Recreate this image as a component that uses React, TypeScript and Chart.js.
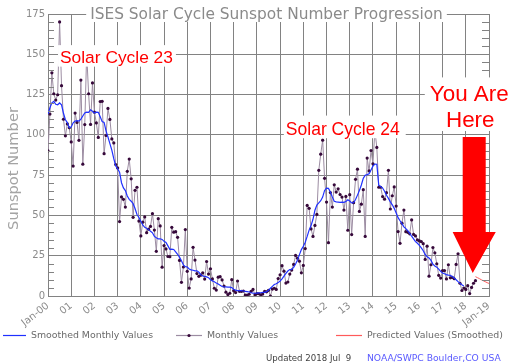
import React, { useEffect, useRef } from "react";
import { Chart, registerables } from "chart.js";
Chart.register(...registerables);

const TITLE = "ISES Solar Cycle Sunspot Number Progression";
const Y_TITLE = "Sunspot Number";
const X_TICK_LABELS = ["Jan-00","01","02","03","04","05","06","07","08","09","10","11","12","13","14","15","16","17","18","Jan-19"];
const Y_MAX = 175;
const Y_STEP = 25;
const MONTHS_SPAN = 228; // Jan-2000 .. Jan-2019

// Monthly values, Jan 2000 .. Jun 2018
const MONTHLY_2000_2004 = [
  90.1,112.9,138.5,125.5,121.6,124.9,170.1,130.5,109.7,99.4,106.8,104.4,
  95.6,80.6,113.5,107.7,96.6,134.0,81.8,106.4,150.7,125.5,106.5,132.2,
  114.1,107.4,98.4,120.7,120.8,88.3,99.6,116.4,109.6,97.5,95.0,81.6,
  79.5,46.2,61.5,60.0,55.2,77.4,85.0,72.7,48.8,65.6,67.5,46.5,
  37.3,45.8,49.1,39.3,41.5,43.2,51.1,40.9,27.7,48.0,43.5,17.9,
];
const MONTHLY_2005_2009 = [
  31.3,29.2,24.5,24.4,42.6,39.6,39.9,36.4,22.1,8.5,18.0,41.2,
  15.3,4.9,10.6,30.2,22.3,13.9,12.2,12.9,14.4,10.5,21.4,13.6,
  16.9,10.6,4.8,3.7,11.7,12.0,10.0,6.2,2.4,0.9,1.7,10.1,
  3.3,2.1,9.3,2.9,2.9,3.1,0.5,0.5,1.1,2.9,4.1,0.8,
  1.5,1.4,0.7,1.2,2.9,2.6,3.5,0.0,4.3,4.8,4.1,10.8,
];
const MONTHLY_2010_2014 = [
  13.2,18.8,15.4,8.0,8.7,13.6,16.1,19.6,25.2,23.5,21.6,14.4,
  19.0,29.4,56.2,54.4,41.6,37.0,43.8,50.6,78.0,88.0,96.7,73.0,
  58.3,33.1,64.2,55.2,69.0,64.5,66.5,63.0,61.4,53.3,61.8,40.8,
  62.9,38.1,57.9,72.4,78.7,52.5,57.0,66.0,37.0,85.6,77.6,90.3,
  82.0,102.8,92.2,67.5,67.5,61.7,60.1,64.1,78.0,54.0,62.2,67.7,
];
const MONTHLY_2015_2018 = [
  55.8,40.0,32.7,45.2,53.3,39.9,39.5,38.6,47.2,38.2,37.3,34.8,
  34.2,33.8,32.5,22.7,30.9,12.3,19.4,30.1,26.8,20.0,12.8,11.1,
  15.7,15.8,10.6,19.4,11.3,11.5,10.7,19.6,26.2,7.9,3.4,4.9,
  4.1,6.4,1.5,5.3,7.9,9.5,
];
const MONTHLY = [...MONTHLY_2000_2004, ...MONTHLY_2005_2009, ...MONTHLY_2010_2014, ...MONTHLY_2015_2018];

// Smoothed monthly values, Jan 2000 .. Dec 2017
const SMOOTHED_2000_2005 = [
  112.9,116.8,119.9,120.8,119.0,118.7,119.8,118.6,113.4,109.4,107.6,104.4,
  104.8,107.5,108.6,108.8,108.6,109.8,111.7,113.6,114.1,114.0,115.5,114.6,
  113.5,114.1,114.0,111.2,108.2,107.7,102.5,98.7,94.6,90.5,85.2,80.7,
  79.0,76.8,70.3,67.1,65.4,62.1,60.0,58.8,57.3,54.3,50.6,48.7,
  46.4,44.1,42.6,42.1,41.2,40.2,39.2,37.0,36.1,35.4,35.5,35.1,
  33.9,33.2,31.1,29.0,29.1,28.9,27.4,25.9,24.1,21.9,19.3,18.2,
];
const SMOOTHED_2006_2011 = [
  18.0,16.8,16.2,16.0,15.6,15.6,14.8,13.2,12.4,12.2,11.9,11.4,
  10.1,9.4,8.9,8.0,7.4,6.6,5.9,5.6,5.7,5.5,5.5,5.2,
  4.2,3.6,3.3,3.3,3.3,3.1,2.9,2.7,2.5,2.0,1.8,1.7,
  1.8,1.9,2.0,2.2,2.3,2.7,3.6,4.8,6.0,7.1,7.6,8.3,
  9.3,10.6,12.3,14.0,15.5,16.4,16.5,17.8,19.9,22.3,25.7,28.8,
  30.9,33.4,37.0,40.9,43.7,47.6,53.2,56.4,57.8,59.1,61.4,65.5,
];
const SMOOTHED_2012_2017 = [
  66.9,66.8,64.5,61.5,58.8,58.4,58.3,58.1,58.2,58.1,58.6,59.7,
  58.9,57.8,57.9,59.9,62.6,65.5,68.9,73.0,74.9,75.3,75.9,78.2,
  80.6,81.9,81.8,68.8,68.0,67.0,65.0,62.5,60.6,58.4,56.6,54.4,
  51.5,48.6,46.7,44.9,42.9,41.8,40.5,38.9,37.1,35.4,33.7,32.7,
  31.4,29.9,28.1,25.8,24.4,23.6,22.1,19.8,18.6,17.9,16.7,15.3,
  14.3,13.8,13.3,13.0,12.8,12.1,11.2,10.1,8.9,7.9,6.9,6.2,
];
const SMOOTHED = [...SMOOTHED_2000_2005, ...SMOOTHED_2006_2011, ...SMOOTHED_2012_2017];

// Predicted (smoothed), from Jun 2018 to Jan 2019
const PREDICTED_START = 221;
const PREDICTED = [12.0, 11.4, 10.8, 10.1, 9.5, 8.9, 8.3, 7.8];

const SERIES_LABELS = ["Smoothed Monthly Values", "Monthly Values", "Predicted Values (Smoothed)"];
const UPDATED = "Updated 2018 Jul  9";
const SOURCE = "NOAA/SWPC Boulder,CO USA";

// annotation anchors in data coordinates (month index, sunspot value)
const NOTE_CYCLE23 = { text: "Solar Cycle 23", x: 35.4, y: 148.7 };
const NOTE_CYCLE24 = { text: "Solar Cycle 24", x: 152.4, y: 103.7 };
const NOTE_HERE = [
  { text: "You Are", x: 217.8, y: 126.3 },
  { text: "Here", x: 218.3, y: 109.9 },
];
const ARROW = { shaftL: 214.4, shaftR: 226.3, top: 98.7, headY: 39.7, headL: 209.2, headR: 231.5, tipX: 219.6, tipY: 14.3 };

const GRID = "#828282";
const GRAY_TEXT = "#8a8a8a";
const BLUE = "#1f30ff";
const PURPLE_LINE = "#9c8ca2";
const PURPLE_DOT = "#36083a";
const RED = "#ff0000";
const PRED = "#ff5a5a";

function fitSize(ctx: CanvasRenderingContext2D, text: string, family: string, target: number) {
  ctx.font = `100px ${family}`;
  return (100 * target) / ctx.measureText(text).width;
}

const decor = {
  id: "decor",
  afterDraw(chart: any) {
    const ctx: CanvasRenderingContext2D = chart.ctx;
    const xs = chart.scales.x;
    const ys = chart.scales.y;
    const area = chart.chartArea;
    ctx.save();

    // minor ticks every 5 units on left and right axes
    ctx.strokeStyle = GRID;
    ctx.lineWidth = 1;
    for (let v = 5; v < Y_MAX; v += 5) {
      if (v % Y_STEP === 0) continue;
      const y = Math.round(ys.getPixelForValue(v)) + 0.5;
      ctx.beginPath();
      ctx.moveTo(area.left, y);
      ctx.lineTo(area.left + 6, y);
      ctx.moveTo(area.right - 7, y);
      ctx.lineTo(area.right, y);
      ctx.stroke();
    }

    const cap = 0.72;
    // title
    {
      const fam = "'DejaVu Sans'";
      const size = fitSize(ctx, TITLE, fam, 353);
      ctx.font = `${size}px ${fam}`;
      const w = ctx.measureText(TITLE).width;
      const cx = 266.5;
      const base = area.top + cap * size / 2;
      ctx.fillStyle = "#fff";
      ctx.fillRect(cx - w / 2 - 4, area.top - 10, w + 8, 18);
      ctx.fillStyle = GRAY_TEXT;
      ctx.textAlign = "center";
      ctx.textBaseline = "alphabetic";
      ctx.fillText(TITLE, cx, base - 1);
    }

    // red notes
    const redFam = "'Liberation Sans', Arial, sans-serif";
    const drawNote = (n: { text: string; x: number; y: number }, target: number, pad: number[]) => {
      const size = fitSize(ctx, n.text, redFam, target);
      ctx.font = `${size}px ${redFam}`;
      const w = ctx.measureText(n.text).width;
      const cx = xs.getPixelForValue(n.x);
      const cy = ys.getPixelForValue(n.y);
      const base = cy + (cap * size) / 2;
      const top = base - cap * size;
      ctx.fillStyle = "#fff";
      ctx.fillRect(cx - w / 2 - pad[0], top - pad[1], w + pad[0] + pad[2], cap * size + pad[1] + pad[3]);
      ctx.fillStyle = RED;
      ctx.textAlign = "center";
      ctx.textBaseline = "alphabetic";
      ctx.fillText(n.text, cx, base);
    };
    drawNote(NOTE_CYCLE23, 113, [2, 5, 3, 4]);
    drawNote(NOTE_CYCLE24, 114, [2, 7, 6, 3]);

    // You Are Here block
    {
      const size = fitSize(ctx, NOTE_HERE[0].text, redFam, 79);
      ctx.font = `${size}px ${redFam}`;
      const w0 = ctx.measureText(NOTE_HERE[0].text).width;
      const c0 = xs.getPixelForValue(NOTE_HERE[0].x);
      const y0 = ys.getPixelForValue(NOTE_HERE[0].y);
      const y1 = ys.getPixelForValue(NOTE_HERE[1].y);
      const top = y0 - (cap * size) / 2 - 7;
      const bottom = y1 + (cap * size) / 2 + 4;
      ctx.fillStyle = "#fff";
      ctx.fillRect(c0 - w0 / 2 - 5, top, chart.width - (c0 - w0 / 2 - 5), bottom - top);
      ctx.fillStyle = RED;
      ctx.textAlign = "center";
      ctx.textBaseline = "alphabetic";
      for (const n of NOTE_HERE) {
        ctx.fillText(n.text, xs.getPixelForValue(n.x), ys.getPixelForValue(n.y) + (cap * size) / 2);
      }
    }

    // arrow
    {
      const X = (v: number) => xs.getPixelForValue(v);
      const Y = (v: number) => ys.getPixelForValue(v);
      ctx.fillStyle = RED;
      ctx.beginPath();
      ctx.moveTo(X(ARROW.shaftL), Y(ARROW.top));
      ctx.lineTo(X(ARROW.shaftR), Y(ARROW.top));
      ctx.lineTo(X(ARROW.shaftR), Y(ARROW.headY));
      ctx.lineTo(X(ARROW.headR), Y(ARROW.headY));
      ctx.lineTo(X(ARROW.tipX), Y(ARROW.tipY));
      ctx.lineTo(X(ARROW.headL), Y(ARROW.headY));
      ctx.lineTo(X(ARROW.shaftL), Y(ARROW.headY));
      ctx.closePath();
      ctx.fill();
    }

    // y axis title
    {
      const fam = "'DejaVu Sans'";
      const size = fitSize(ctx, Y_TITLE, fam, 123);
      ctx.font = `${size}px ${fam}`;
      ctx.translate(14, 168.5);
      ctx.rotate(-Math.PI / 2);
      ctx.fillStyle = "#a4a4a4";
      ctx.textAlign = "center";
      ctx.textBaseline = "middle";
      ctx.fillText(Y_TITLE, 0, 0);
      ctx.setTransform(1, 0, 0, 1, 0, 0);
    }

    // legend
    {
      const fam = "'DejaVu Sans'";
      const ly = 335.5;
      ctx.font = `9.4px ${fam}`;
      ctx.textAlign = "left";
      ctx.textBaseline = "middle";
      const items = [
        { x0: 3, x1: 26, tx: 31, color: BLUE, dot: false, label: SERIES_LABELS[0] },
        { x0: 176, x1: 202, tx: 207, color: PURPLE_LINE, dot: true, label: SERIES_LABELS[1] },
        { x0: 336, x1: 362, tx: 367, color: PRED, dot: false, label: SERIES_LABELS[2] },
      ];
      for (const it of items) {
        ctx.strokeStyle = it.color;
        ctx.lineWidth = 1.2;
        ctx.beginPath();
        ctx.moveTo(it.x0, ly);
        ctx.lineTo(it.x1, ly);
        ctx.stroke();
        if (it.dot) {
          ctx.fillStyle = PURPLE_DOT;
          ctx.beginPath();
          ctx.arc((it.x0 + it.x1) / 2, ly, 1.6, 0, Math.PI * 2);
          ctx.fill();
        }
        ctx.fillStyle = "#6a6a6a";
        ctx.fillText(it.label, it.tx, ly);
      }
      ctx.font = `8.6px ${fam}`;
      ctx.fillStyle = "#404040";
      ctx.fillText(UPDATED, 266, 359);
      ctx.font = `9.2px ${fam}`;
      ctx.fillStyle = "#5a5aff";
      ctx.fillText(SOURCE, 367, 359);
    }
    ctx.restore();
  },
};

export default function App() {
  const ref = useRef<HTMLCanvasElement | null>(null);
  useEffect(() => {
    document.body.style.margin = "0";
    const canvas = ref.current!;
    const chart = new Chart(canvas, {
      type: "line",
      data: {
        datasets: [
          {
            label: SERIES_LABELS[0],
            data: SMOOTHED.map((v, i) => ({ x: i, y: v })),
            borderColor: BLUE,
            borderWidth: 1.2,
            pointRadius: 0,
            tension: 0,
            order: 0,
          },
          {
            label: SERIES_LABELS[1],
            data: MONTHLY.map((v, i) => ({ x: i, y: v })),
            borderColor: PURPLE_LINE,
            borderWidth: 1,
            pointRadius: 1.6,
            pointBackgroundColor: PURPLE_DOT,
            pointBorderWidth: 0,
            tension: 0,
            order: 1,
          },
          {
            label: SERIES_LABELS[2],
            data: PREDICTED.map((v, i) => ({ x: PREDICTED_START + i, y: v })),
            borderColor: PRED,
            borderWidth: 1,
            pointRadius: 0,
            tension: 0,
            order: 2,
          },
        ],
      },
      options: {
        animation: false,
        responsive: false,
        events: [],
        layout: { padding: { top: 14, right: 23, left: 0, bottom: 0 } },
        plugins: { legend: { display: false }, tooltip: { enabled: false }, title: { display: false } },
        scales: {
          x: {
            type: "linear",
            min: 0,
            max: MONTHS_SPAN,
            grid: { color: GRID, lineWidth: 1, drawTicks: false },
            border: { color: GRID },
            ticks: {
              stepSize: 12,
              autoSkip: false,
              maxRotation: 38,
              minRotation: 38,
              padding: 4,
              color: GRAY_TEXT,
              font: { family: "'DejaVu Sans'", size: 10 },
              callback: (v: any) => X_TICK_LABELS[Math.round(Number(v) / 12)] ?? "",
            },
            afterFit: (s: any) => { s.height = 68; },
          },
          y: {
            min: 0,
            max: Y_MAX,
            grid: { color: GRID, lineWidth: 1, drawTicks: false },
            border: { color: GRID },
            ticks: {
              stepSize: Y_STEP,
              padding: 3,
              color: GRAY_TEXT,
              font: { family: "'DejaVu Sans'", size: 10 },
            },
            afterFit: (s: any) => { s.width = 48; },
          },
        },
      },
      plugins: [decor],
    } as any);
    return () => chart.destroy();
  }, []);
  return (
    <div style={{ width: 512, height: 364, background: "#fff" }}>
      <canvas ref={ref} width={512} height={364} />
    </div>
  );
}
